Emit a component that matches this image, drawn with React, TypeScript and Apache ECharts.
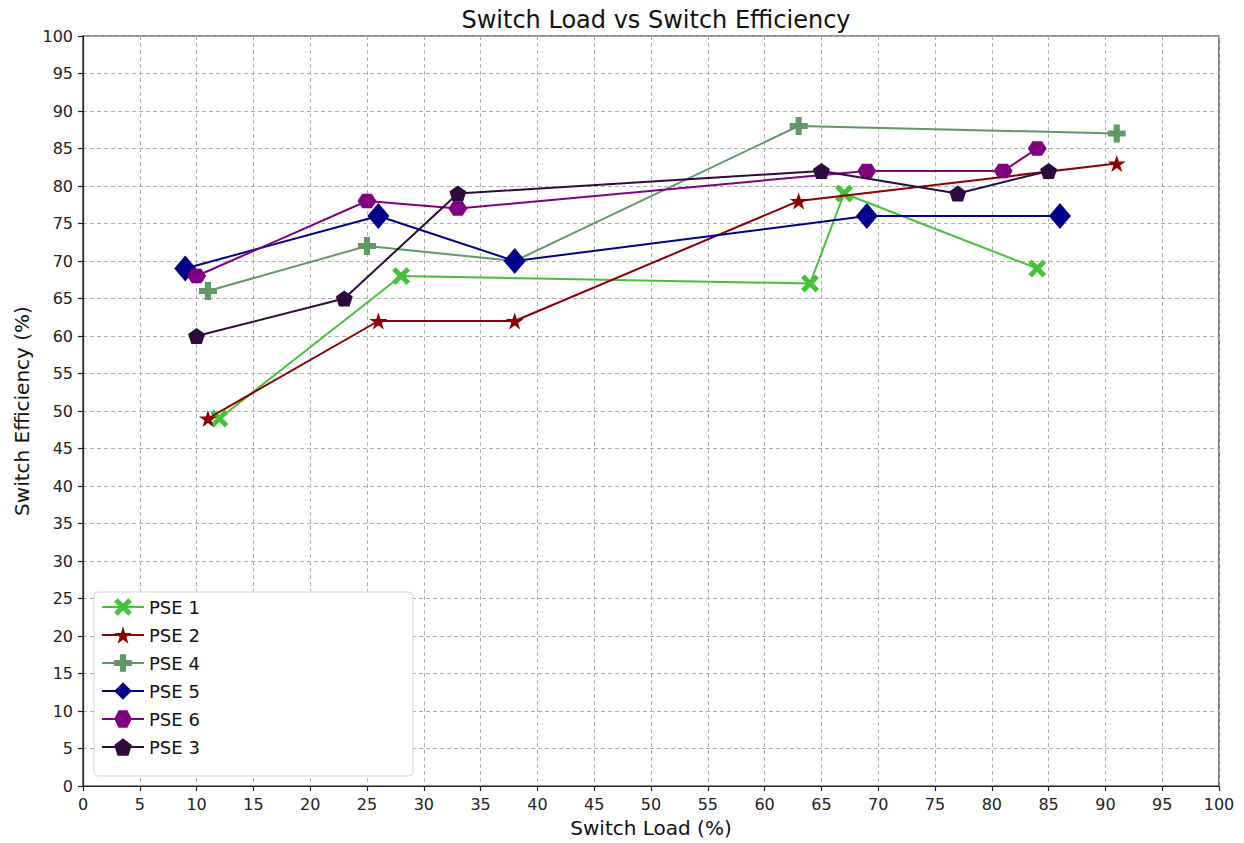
import React, { useEffect, useRef } from "react";
import * as echarts from "echarts";

const seriesNames = ["PSE 1", "PSE 2", "PSE 4", "PSE 5", "PSE 6", "PSE 3"];
const pse1X = [12, 28, 64, 67, 84];
const pse1Y = [49, 68, 67, 79, 69];
const pse2X = [11, 26, 38, 63, 91];
const pse2Y = [49, 62, 62, 78, 83];
const pse4X = [11, 25, 38, 63, 91];
const pse4Y = [66, 72, 70, 88, 87];
const pse5X = [9, 26, 38, 69, 86];
const pse5Y = [69, 76, 70, 76, 76];
const pse6X = [10, 25, 33, 69, 81, 84];
const pse6Y = [68, 78, 77, 82, 82, 85];
const pse3X = [10, 23, 33, 65, 77, 85];
const pse3Y = [60, 65, 79, 82, 79, 82];

const colors = ["#45c23a", "#8b0000", "#5f9966", "#00008b", "#800080", "#2d0a3e"];

const X_PATH = "path://M2,0 L5,3 L8,0 L10,2 L7,5 L10,8 L8,10 L5,7 L2,10 L0,8 L3,5 L0,2 Z";
const STAR_PATH =
  "path://M0,-1 L0.2245,-0.309 L0.9511,-0.309 L0.3633,0.118 L0.5878,0.809 L0,0.382 L-0.5878,0.809 L-0.3633,0.118 L-0.9511,-0.309 L-0.2245,-0.309 Z";
const PLUS_PATH =
  "path://M3.3,0 L6.7,0 L6.7,3.3 L10,3.3 L10,6.7 L6.7,6.7 L6.7,10 L3.3,10 L3.3,6.7 L0,6.7 L0,3.3 L3.3,3.3 Z";
const HEX_PATH = "path://M1,0 L0.5,0.866 L-0.5,0.866 L-1,0 L-0.5,-0.866 L0.5,-0.866 Z";
const PENT_PATH =
  "path://M0,-1 L0.9511,-0.309 L0.5878,0.809 L-0.5878,0.809 L-0.9511,-0.309 Z";

const symbols = [X_PATH, STAR_PATH, PLUS_PATH, "diamond", HEX_PATH, PENT_PATH];
const symbolSizes = [18, 18, 18, [22, 26], [19, 17], 17];

const xs = [pse1X, pse2X, pse4X, pse5X, pse6X, pse3X];
const ys = [pse1Y, pse2Y, pse4Y, pse5Y, pse6Y, pse3Y];

const FONT = "DejaVu Sans";

export default function App() {
  const ref = useRef<HTMLDivElement>(null);
  useEffect(() => {
    if (!ref.current) return;
    const chart = echarts.init(ref.current, null, { renderer: "svg" });
    const axisCommon = {
      min: 0,
      max: 100,
      interval: 5,
      axisLine: { show: true, onZero: false, lineStyle: { color: "#222", width: 1.2 } },
      axisTick: { show: true, inside: false, length: 5, lineStyle: { color: "#222", width: 1.2 } },
      axisLabel: { color: "#222", fontSize: 16, fontFamily: FONT, margin: 10 },
      splitLine: { show: true, lineStyle: { color: "#b0b0b0", width: 1, type: [4, 3] } },
      nameTextStyle: { color: "#111", fontSize: 20, fontFamily: FONT },
      nameLocation: "middle",
    };
    chart.setOption({
      animation: false,
      backgroundColor: "#ffffff",
      title: {
        text: "Switch Load vs Switch Efficiency",
        left: 651,
        textAlign: "center",
        top: 3,
        textStyle: { color: "#111", fontSize: 24, fontWeight: "normal", fontFamily: FONT },
      },
      grid: {
        left: 83,
        top: 36,
        right: 25,
        bottom: 55,
        show: true,
        borderColor: "#222",
        borderWidth: 1.2,
        backgroundColor: "transparent",
      },
      xAxis: { type: "value", name: "Switch Load (%)", nameGap: 32, ...axisCommon },
      yAxis: { type: "value", name: "Switch Efficiency (%)", nameGap: 50, ...axisCommon },
      graphic: [
        {
          type: "rect",
          z: 3,
          shape: { x: 94, y: 592, width: 319, height: 184, r: 4 },
          style: { fill: "#ffffff", stroke: "#d4d4d4", lineWidth: 1 },
        },
      ],
      legend: {
        orient: "vertical",
        left: 96,
        top: 593,
        itemWidth: 42,
        itemHeight: 22,
        itemGap: 10,
        z: 5,
        data: seriesNames,
        textStyle: { color: "#111", fontSize: 18, fontFamily: FONT },
      },
      series: seriesNames.map((name, i) => ({
        name,
        type: "line",
        data: xs[i].map((x, j) => [x, ys[i][j]]),
        symbol: symbols[i],
        symbolSize: symbolSizes[i],
        symbolKeepAspect: true,
        showAllSymbol: true,
        lineStyle: { color: colors[i], width: 2 },
        itemStyle: { color: colors[i], borderWidth: 0 },
        emphasis: { disabled: true },
        z: 2 + i * 0.01,
      })),
    });
    return () => chart.dispose();
  }, []);
  return (
    <div
      ref={ref}
      style={{ position: "fixed", left: 0, top: 0, width: 1244, height: 843, background: "#fff" }}
    />
  );
}
